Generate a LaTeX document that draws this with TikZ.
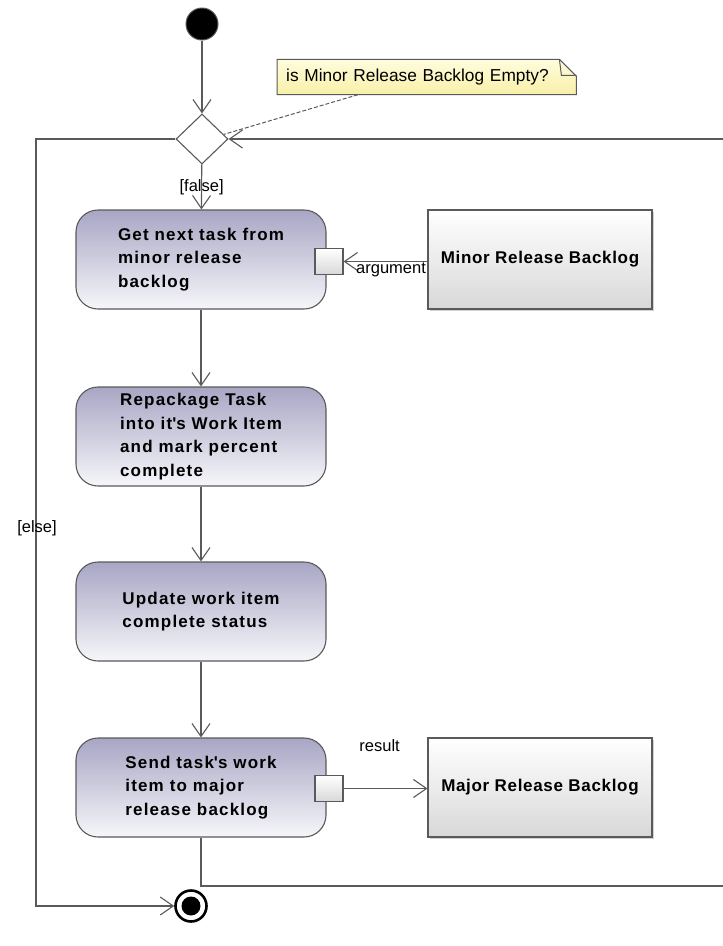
\documentclass[tikz,border=0pt]{standalone}
\usepackage{fontspec}
\setmainfont{Liberation Sans}
\usetikzlibrary{positioning, shapes.geometric, arrows.meta, shadows, calc}

\definecolor{flowline}{RGB}{90,90,90}
\definecolor{actTop}{RGB}{168,166,196}
\definecolor{actBot}{RGB}{246,246,250}
\definecolor{objBot}{RGB}{216,216,216}
\definecolor{noteTop}{RGB}{255,252,222}
\definecolor{noteBot}{RGB}{248,240,168}

\tikzset{
  flow/.style={draw=flowline, line width=1.1pt, -{Straight Barb[length=13pt,width=18pt]}},
  action/.style={rectangle, rounded corners=22pt, draw=flowline, line width=1.1pt,
    top color=actTop, bottom color=actBot, minimum width=250pt, minimum height=99pt,
    align=left, font=\bfseries\fontsize{17}{23.5}\selectfont\addfontfeatures{LetterSpace=7}},
  objnode/.style={rectangle, draw=flowline, line width=1.1pt, top color=white, bottom color=objBot,
    minimum width=224pt, minimum height=99pt,
    font=\bfseries\fontsize{17}{20}\selectfont\addfontfeatures{LetterSpace=4},
    drop shadow={shadow xshift=1.5pt, shadow yshift=-1.5pt, opacity=.35}},
  pinbox/.style={rectangle, draw=flowline, line width=1.1pt, top color=white, bottom color=objBot,
    minimum width=28pt, minimum height=26pt, inner sep=0pt},
  guard/.style={font=\fontsize{16.5}{18}\selectfont, inner sep=1pt},
}

\begin{document}
\begin{tikzpicture}[x=1pt, y=-1pt]

    \useasboundingbox[fill=white] (0,0) rectangle (723,946);

    % Initial and final nodes
    \node[circle, fill=black, draw=flowline, line width=1pt, minimum size=32pt, inner sep=0pt] (start) at (202,24) {};
    \node[circle, draw=black, line width=2.6pt, fill=white, minimum size=31pt, inner sep=0pt] (final) at (191,906) {};
    \fill (final.center) circle (9.5);

    % Decision
    \node[diamond, draw=flowline, line width=1.1pt, fill=white, minimum width=52pt, minimum height=50pt,
        inner sep=0pt] (dec) at (202,139) {};

    % Note with folded corner
    \node[anchor=west, inner xsep=9pt, inner ysep=0pt, text width=281pt, minimum height=35pt] (note) at (277,77) {};
    \path[draw=flowline, line width=1pt, top color=noteTop, bottom color=noteBot]
        (note.south west) -- (note.north west) -- ([xshift=-17pt]note.north east)
        -- ([yshift=-17pt]note.north east) -- (note.south east) -- cycle;
    \draw[flowline, line width=1pt] ([xshift=-17pt]note.north east) -- ([xshift=-15pt,yshift=-16pt]note.north east)
        -- ([yshift=-16pt]note.north east);
    \node[anchor=west, inner xsep=9pt, inner ysep=0pt, text width=281pt, minimum height=35pt, align=left,
        font=\fontsize{17.3}{18}\selectfont] (notetext) at (277,77) {is Minor Release Backlog Empty?};
    \draw[flowline, line width=1pt, dashed, dash pattern=on 4pt off 2pt]
        ([xshift=81pt]note.south west) -- ($(dec.east)!0.18!(dec.north)$);

    % Actions
    \node[action] (act1) at (201,259.5) {Get next task from\\minor release\\backlog};
    \node[action] (act2) at (201,436.5) {Repackage Task\\into it\textquotesingle s Work Item\\and mark percent\\complete};
    \node[action] (act3) at (201,611.5) {Update work item\\complete status};
    \node[action] (act4) at (201,787.5) {Send task\textquotesingle s work\\item to major\\release backlog};

    % Pins and object nodes
    \node[pinbox] (pinA) at (329,261.5) {};
    \node[pinbox] (pinB) at (329,788.5) {};
    \node[objnode] (objA) at (540,259.5) {Minor Release Backlog};
    \node[objnode] (objB) at (540,787.5) {Major Release Backlog};

    % Loop corners
    \coordinate (loopbot) at (726,886);
    \coordinate (looptop) at (726,139);
    \coordinate (elsebot) at (36,906);

    % Control flows
    \draw[flow] (start) -- (dec);
    \draw[flow] (dec) -- (act1) node[guard, midway] {[false]};
    \draw[flow] (act1) -- (act2);
    \draw[flow] (act2) -- (act3);
    \draw[flow] (act3) -- (act4);
    \draw[flow] (act4.south) |- (loopbot) -- (looptop) -- (dec.east);
    \draw[flow] (dec.west) -| (elsebot) -- (final.west);
    \node[guard] (elselbl) at (37,528) {[else]};

    % Object flows
    \draw[flow] (objA.west |- pinA) -- (pinA.east) node[guard, pos=0, anchor=north east] {argument};
    \draw[flow] (pinB.east) -- (objB.west |- pinB) node[guard, pos=0.43, above=35pt] {result};

\end{tikzpicture}
\end{document}
